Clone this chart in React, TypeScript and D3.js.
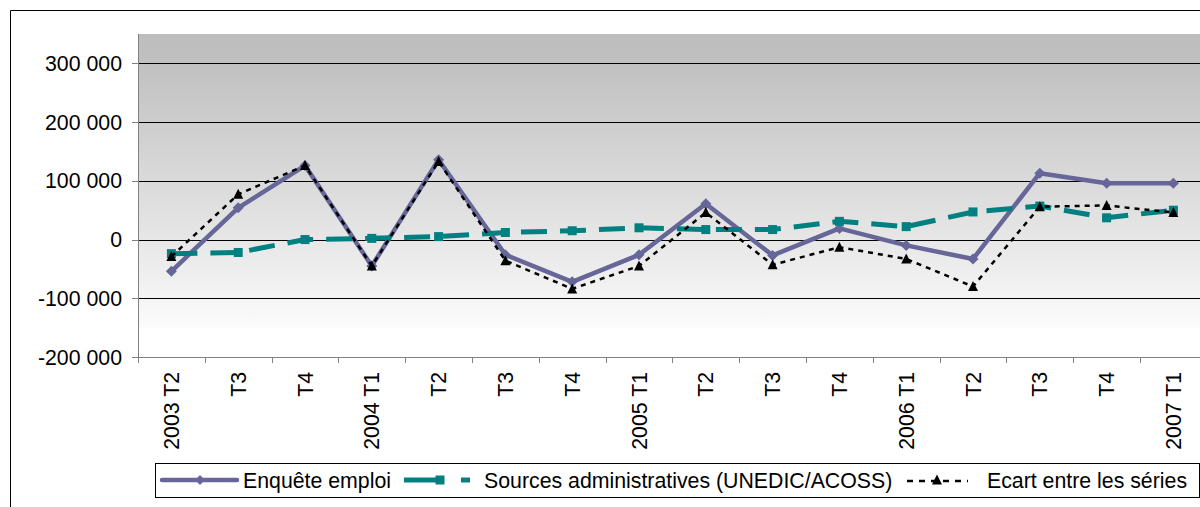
import React from "react";
import * as d3 from "d3";

const categories = [
  "2003 T2", "T3", "T4", "2004 T1", "T2", "T3", "T4", "2005 T1",
  "T2", "T3", "T4", "2006 T1", "T2", "T3", "T4", "2007 T1",
];

const enqueteEmploi = [
  -54000, 54000, 126000, -45000, 136000, -26000, -72000, -26000,
  61000, -27000, 19000, -10000, -33000, 113000, 96000, 96000,
];

const sourcesAdmin = [
  -24000, -22000, 0, 2000, 5000, 12000, 15000, 20000,
  17000, 17000, 31000, 22000, 47000, 57000, 37000, 50000,
];

const ecartSeries = [
  -29000, 77000, 126000, -45000, 133000, -36000, -84000, -45000,
  46000, -43000, -13000, -33000, -80000, 56000, 58000, 46000,
];

const yTicks = [-200000, -100000, 0, 100000, 200000, 300000];

const seriesNames = [
  "Enquête emploi",
  "Sources administratives (UNEDIC/ACOSS)",
  "Ecart entre les séries",
];

const PURPLE = "#666699";
const TEAL = "#008080";
const FONT = "Arial, 'Liberation Sans', sans-serif";
const FS = 21.3;

const locale = d3.formatLocale({
  decimal: ",",
  thousands: " ",
  grouping: [3],
  currency: ["", ""],
  minus: "-",
});
const fmt = locale.format(",d");

function Diamond({ x, y, r, fill }: { x: number; y: number; r: number; fill: string }) {
  return (
    <path d={`M${x},${y - r}L${x + r},${y}L${x},${y + r}L${x - r},${y}Z`} fill={fill} />
  );
}
function Square({ x, y, s, fill }: { x: number; y: number; s: number; fill: string }) {
  return <rect x={x - s / 2} y={y - s / 2} width={s} height={s} fill={fill} />;
}
function Triangle({ x, y, s, fill }: { x: number; y: number; s: number; fill: string }) {
  const h = s * 0.9;
  return (
    <path
      d={`M${x},${y - h / 2 - 1}L${x + s / 2},${y + h / 2}L${x - s / 2},${y + h / 2}Z`}
      fill={fill}
    />
  );
}

export default function App() {
  const W = 1200;
  const H = 507;
  const plotLeft = 138;
  const plotTop = 34;
  const plotBottom = 357;
  const bandW = 66.8;

  const x = d3
    .scaleBand<string>()
    .domain(categories.map((c, i) => `${i}`))
    .range([plotLeft, plotLeft + bandW * categories.length])
    .padding(0);
  const cx = (i: number) => (x(`${i}`) as number) + x.bandwidth() / 2;

  const y = d3.scaleLinear().domain([-200000, 350000]).range([plotBottom, plotTop]);

  const line = d3
    .line<number>()
    .x((_, i) => cx(i))
    .y((d) => y(d));

  const plotRight = plotLeft + bandW * categories.length;

  return (
    <div style={{ position: "absolute", left: 0, top: 0 }}>
      <svg width={W} height={H} style={{ display: "block", fontFamily: FONT }}>
        <defs>
          <linearGradient id="bg" x1="0" y1="0" x2="0" y2="1">
            <stop offset="0" stopColor="#bdbdbd" />
            <stop offset="0.1" stopColor="#c1c1c1" />
            <stop offset="0.5" stopColor="#dddddd" />
            <stop offset="0.75" stopColor="#efefef" />
            <stop offset="0.905" stopColor="#fbfbfb" />
            <stop offset="0.915" stopColor="#ffffff" />
            <stop offset="1" stopColor="#ffffff" />
          </linearGradient>
        </defs>
        <rect x={0} y={0} width={W} height={H} fill="#fff" />
        {/* outer chart border */}
        <path d={`M10.5,${H + 5}V10.5H${W + 5}`} fill="none" stroke="#000" strokeWidth={1} />

        {/* plot area */}
        <rect
          x={plotLeft}
          y={plotTop}
          width={plotRight - plotLeft}
          height={plotBottom - plotTop}
          fill="url(#bg)"
        />

        {/* gridlines */}
        {yTicks.map((t) =>
          t === -200000 ? null : (
            <line
              key={`g${t}`}
              x1={plotLeft}
              x2={plotRight}
              y1={Math.round(y(t)) + 0.5}
              y2={Math.round(y(t)) + 0.5}
              stroke="#000"
              strokeWidth={1}
            />
          )
        )}

        {/* y axis */}
        <line
          x1={plotLeft + 0.5}
          x2={plotLeft + 0.5}
          y1={plotTop}
          y2={plotBottom}
          stroke="#808080"
          strokeWidth={1}
        />
        {yTicks.map((t) => (
          <g key={`yt${t}`}>
            <line
              x1={plotLeft - 6}
              x2={plotLeft}
              y1={Math.round(y(t)) + 0.5}
              y2={Math.round(y(t)) + 0.5}
              stroke="#808080"
            />
            <text
              x={122}
              y={y(t)}
              dy="0.36em"
              textAnchor="end"
              fontSize={FS}
              fill="#000"
            >
              {fmt(t)}
            </text>
          </g>
        ))}

        {/* x axis */}
        <line
          x1={plotLeft}
          x2={plotRight}
          y1={plotBottom + 0.5}
          y2={plotBottom + 0.5}
          stroke="#808080"
        />
        {d3.range(categories.length + 1).map((i) => {
          const xx = Math.round(plotLeft + i * bandW) + 0.5;
          return (
            <line
              key={`xt${i}`}
              x1={xx}
              x2={xx}
              y1={plotBottom}
              y2={plotBottom + 6}
              stroke="#808080"
            />
          );
        })}
        {categories.map((c, i) => (
          <text
            key={`xl${i}`}
            transform={`translate(${cx(i)},${372}) rotate(-90)`}
            textAnchor="end"
            dy="0.36em"
            fontSize={FS}
            fill="#000"
          >
            {c}
          </text>
        ))}

        {/* Series 1: Enquête emploi */}
        <path
          d={line(enqueteEmploi) || ""}
          fill="none"
          stroke={PURPLE}
          strokeWidth={4.5}
          strokeLinejoin="round"
        />
        {enqueteEmploi.map((v, i) => (
          <Diamond key={`d${i}`} x={cx(i)} y={y(v)} r={5.5} fill={PURPLE} />
        ))}

        {/* Series 2: Sources administratives */}
        <path
          d={line(sourcesAdmin) || ""}
          fill="none"
          stroke={TEAL}
          strokeWidth={5}
          strokeDasharray="26,13"
        />
        {sourcesAdmin.map((v, i) => (
          <Square key={`s${i}`} x={cx(i)} y={y(v)} s={9} fill={TEAL} />
        ))}

        {/* Series 3: Ecart */}
        <path
          d={line(ecartSeries) || ""}
          fill="none"
          stroke="#000"
          strokeWidth={2.5}
          strokeDasharray="5,5"
        />
        {ecartSeries.map((v, i) => (
          <Triangle key={`t${i}`} x={cx(i)} y={y(v)} s={10} fill="#000" />
        ))}

        {/* legend */}
        <rect x={155.5} y={463.5} width={1044} height={34} fill="#fff" stroke="#000" strokeWidth={1} />
        <g>
          <line x1={162} x2={237} y1={480} y2={480} stroke={PURPLE} strokeWidth={4.5} strokeLinecap="round" />
          <Diamond x={200} y={480} r={5} fill={PURPLE} />
          <text x={243} y={487.5} fontSize={FS} fill="#000">
            {seriesNames[0]}
          </text>

          <line x1={404} x2={470} y1={480} y2={480} stroke={TEAL} strokeWidth={5} strokeDasharray="36,21,9,20" />
          <Square x={440} y={480} s={9} fill={TEAL} />
          <text x={484} y={487.5} fontSize={FS} fill="#000">
            {seriesNames[1]}
          </text>

          <line x1={907} x2={968} y1={481} y2={481} stroke="#000" strokeWidth={2.5} strokeDasharray="6,6" />
          <Triangle x={937} y={480} s={10} fill="#000" />
          <text x={987} y={487.5} fontSize={FS} fill="#000">
            {seriesNames[2]}
          </text>
        </g>
      </svg>
    </div>
  );
}
